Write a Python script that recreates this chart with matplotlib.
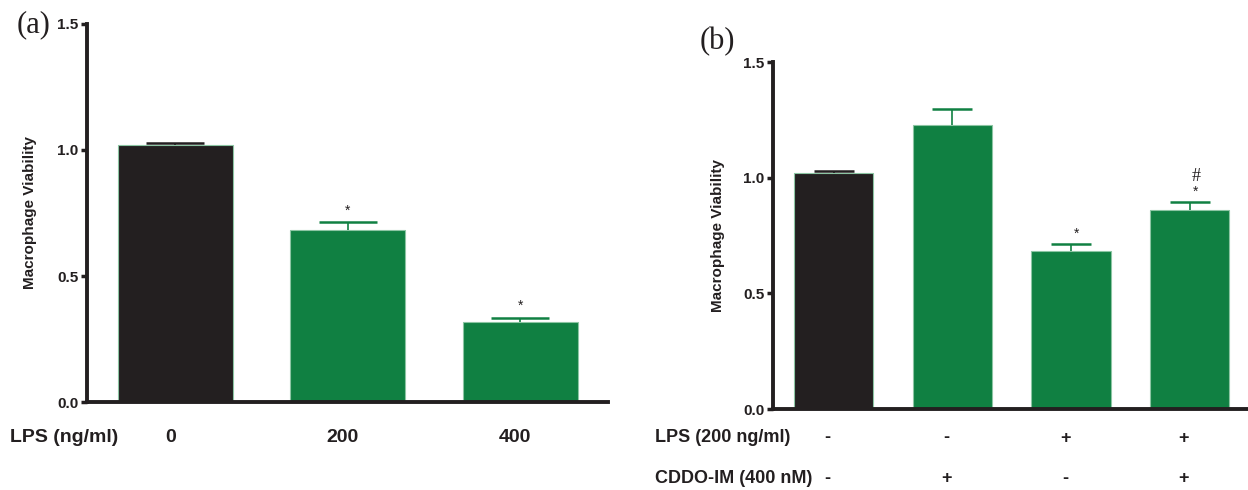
import matplotlib
matplotlib.use("Agg")
import matplotlib.pyplot as plt
from matplotlib.transforms import blended_transform_factory

# ---- data ----
a_doses = ["0", "200", "400"]
a_values = [1.02, 0.683, 0.318]
a_errors = [0.008, 0.030, 0.015]
a_marks = ["", "*", "*"]

b_lps = ["-", "-", "+", "+"]
b_cddo = ["-", "+", "-", "+"]
b_values = [1.02, 1.228, 0.683, 0.86]
b_errors = [0.008, 0.07, 0.03, 0.035]
b_marks = ["", "", "*", "*"]
b_hash = ["", "", "", "#"]

yticks = [0.0, 0.5, 1.0, 1.5]

BLACK = "#231F20"
GREEN = "#108042"
bar_colors_a = [BLACK, GREEN, GREEN]
bar_colors_b = [BLACK, GREEN, GREEN, GREEN]

plt.rcParams['font.family'] = ['Liberation Sans', 'DejaVu Sans']

fig = plt.figure(figsize=(12.48, 4.9), dpi=100)
W, H = 1248, 490

def fy(py):
    return 1 - py / H

def style_axes(ax):
    for s in ["top", "right"]:
        ax.spines[s].set_visible(False)
    for s in ["left", "bottom"]:
        ax.spines[s].set_linewidth(2.8)
        ax.spines[s].set_color(BLACK)
    ax.set_ylim(0, 1.5)
    ax.set_yticks(yticks)
    ax.set_yticklabels([f"{t:.1f}" for t in yticks], fontsize=11, fontweight="bold", color=BLACK)
    ax.tick_params(axis="y", length=4, width=2.5, pad=2, color=BLACK)
    ax.set_xticks([])
    ax.set_ylabel("Macrophage Viability", fontsize=11, fontweight="bold", color=BLACK)

def draw_bars(ax, values, errors, colors):
    x = list(range(len(values)))
    ax.bar(x, values, width=0.667, color=colors, edgecolor="#8cc5a3", linewidth=0.8, zorder=2)
    cap = 0.336
    for xi, v, e, c in zip(x, values, errors, colors):
        ax.vlines(xi, v, v + e, color=c, linewidth=1.2, zorder=3)
        ax.hlines(v + e, xi - cap / 2, xi + cap / 2, color=c, linewidth=1.8, zorder=3)

# ---- panel (a) ----
axA = fig.add_axes([87 / W, fy(402), (608 - 87) / W, (402 - 24) / H])
style_axes(axA)
draw_bars(axA, a_values, a_errors, bar_colors_a)
axA.set_xlim(-0.513, 2.51)
axA.yaxis.set_label_coords(-0.096, 0.5)
for i, (v, e, m) in enumerate(zip(a_values, a_errors, a_marks)):
    if m:
        axA.text(i, v + e + 0.02, m, ha="center", va="bottom", fontsize=10, color=BLACK)
trA = blended_transform_factory(axA.transData, fig.transFigure)
fig.text(10 / W, fy(437), "LPS (ng/ml)", fontsize=14, fontweight="bold", va="center", ha="left", color=BLACK)
for i, d in enumerate(a_doses):
    axA.text(i - 0.03, fy(437), d, transform=trA, fontsize=14, fontweight="bold", va="center", ha="center", color=BLACK)
fig.text(17 / W, fy(25), "(a)", fontsize=22, family="Liberation Serif", va="center", ha="left", color=BLACK)

# ---- panel (b) ----
axB = fig.add_axes([773 / W, fy(409), (1248 - 773) / W, (409 - 62) / H])
style_axes(axB)
draw_bars(axB, b_values, b_errors, bar_colors_b)
axB.set_xlim(-0.51, 3.49)
axB.yaxis.set_label_coords(-0.101, 0.5)
for i, (v, e, m, h) in enumerate(zip(b_values, b_errors, b_marks, b_hash)):
    top = v + e + 0.015
    if m:
        axB.text(i + 0.05, top, m, ha="center", va="bottom", fontsize=10, color=BLACK)
        top += 0.06
    if h:
        axB.text(i + 0.05, top, h, ha="center", va="bottom", fontsize=13,
                 family="Liberation Serif", color=BLACK)
trB = blended_transform_factory(axB.transData, fig.transFigure)
fig.text(655 / W, fy(438), "LPS (200 ng/ml)", fontsize=13, fontweight="bold", va="center", ha="left", color=BLACK)
fig.text(655 / W, fy(478), "CDDO-IM (400 nM)", fontsize=13, fontweight="bold", va="center", ha="left", color=BLACK)
for i, (l, c) in enumerate(zip(b_lps, b_cddo)):
    axB.text(i - 0.05, fy(438), l, transform=trB, fontsize=13, fontweight="bold", va="center", ha="center", color=BLACK)
    axB.text(i - 0.05, fy(478), c, transform=trB, fontsize=13, fontweight="bold", va="center", ha="center", color=BLACK)
fig.text(700 / W, fy(42), "(b)", fontsize=22, family="Liberation Serif", va="center", ha="left", color=BLACK)

fig.savefig("out.png", dpi=100)
